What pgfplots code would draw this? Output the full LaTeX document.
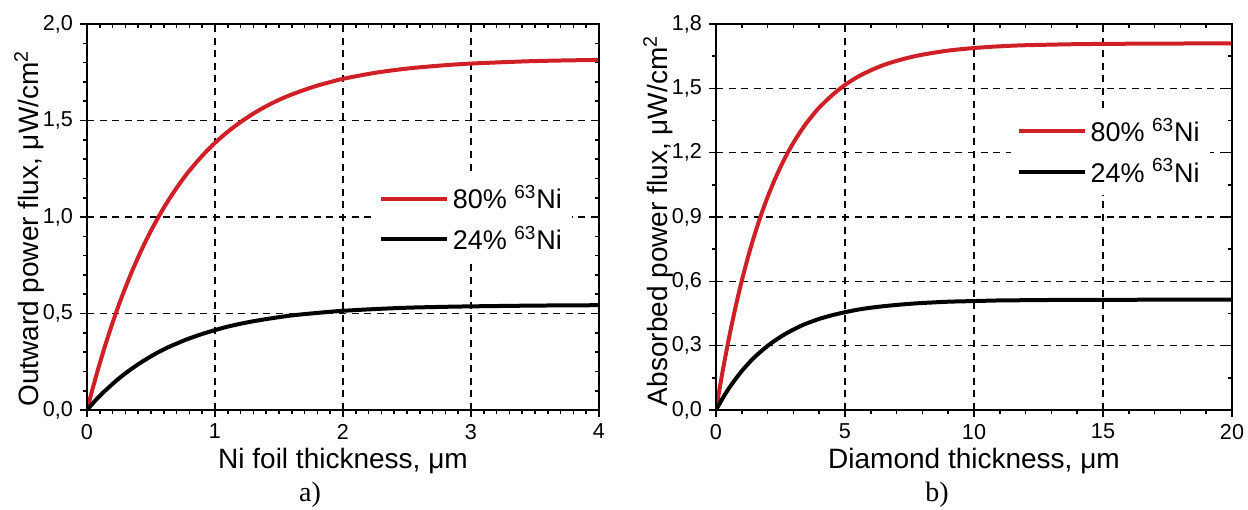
\documentclass[border=0pt]{standalone}
\usepackage{fontspec}
\setmainfont{Liberation Sans}
\newfontfamily\capfont{Liberation Serif}
\usepackage{pgfplots}
\pgfplotsset{compat=1.18}

\definecolor{curvered}{RGB}{206,32,38}

% common look of both panels
\pgfplotsset{
  panel/.style={
    scale only axis,
    width=256pt, height=193pt,
    axis line style={line width=0.9pt},
    tick style={line width=0.8pt, black},
    major tick length=3.5pt,
    minor tick length=2pt,
    tick label style={font=\fontsize{10.8}{12}\selectfont},
    label style={font=\fontsize{14}{16}\selectfont},
    /pgf/number format/assume math mode=true,
    yticklabel style={/pgf/number format/.cd, fixed, fixed zerofill, precision=1, use comma},
    xticklabel style={/pgf/number format/.cd, fixed, precision=0},
  },
  mainax/.style={
    panel,
    tick align=outside,
    xtick pos=bottom, ytick pos=left,
    grid=major,
    major grid style={black, line width=0.65pt, dash pattern=on 3.5pt off 2.8pt},
    legend cell align=left,
    legend image code/.code={\draw[##1, line width=2pt] (0pt,0pt) -- (33pt,0pt);},
  },
  mirrorax/.style={
    panel,
    tick align=inside,
    xtick pos=top, ytick pos=right,
    xticklabels={}, yticklabels={},
  },
  curve/.style={smooth, no marks, line width=2pt},
}

\pgfplotstableread{
x     red    black
0     0      0
0.05  0.125  0.038
0.1   0.242  0.073
0.15  0.351  0.105
0.2   0.452  0.135
0.25  0.547  0.164
0.3   0.634  0.190
0.35  0.716  0.214
0.4   0.792  0.237
0.45  0.863  0.258
0.5   0.929  0.278
0.55  0.990  0.297
0.6   1.048  0.314
0.65  1.101  0.330
0.7   1.150  0.344
0.75  1.197  0.358
0.8   1.240  0.371
0.9   1.317  0.394
1.0   1.384  0.414
1.1   1.442  0.432
1.2   1.492  0.447
1.3   1.536  0.460
1.4   1.574  0.471
1.5   1.607  0.481
1.6   1.635  0.490
1.7   1.659  0.497
1.8   1.681  0.503
1.9   1.699  0.509
2.0   1.716  0.514
2.25  1.747  0.523
2.5   1.769  0.530
2.75  1.784  0.534
3.0   1.795  0.537
3.5   1.808  0.541
4.0   1.814  0.543
}\foildata

\pgfplotstableread{
x     red    black
0     0      0
0.25  0.176  0.053
0.5   0.334  0.101
0.75  0.476  0.143
1     0.603  0.182
1.25  0.717  0.216
1.5   0.819  0.247
1.75  0.911  0.274
2     0.993  0.299
2.25  1.067  0.321
2.5   1.133  0.341
2.75  1.193  0.359
3     1.246  0.375
3.25  1.294  0.390
3.5   1.337  0.403
3.75  1.375  0.414
4     1.410  0.425
4.5   1.468  0.442
5     1.516  0.456
5.5   1.554  0.468
6     1.584  0.477
6.5   1.609  0.484
7     1.628  0.490
7.5   1.644  0.495
8     1.657  0.499
9     1.676  0.505
10    1.688  0.508
11    1.696  0.511
12    1.701  0.512
14    1.706  0.514
16    1.708  0.514
18    1.709  0.515
20    1.710  0.515
}\diamonddata

\begin{document}
\begin{tikzpicture}
% ---- a) ----
\begin{axis}[mainax,
  xmin=0, xmax=4, ymin=0, ymax=2,
  xtick={0,1,2,3,4}, ytick={0,0.5,1,1.5,2},
  minor x tick num=9, minor y tick num=4,
  xlabel={Ni foil thickness, μm},
  ylabel={Outward power flux, μW/cm\textsuperscript{2}},
  xlabel style={at={(axis description cs:0.5,-0.132)}, anchor=center},
  ylabel style={at={(axis description cs:-0.113,0.47)}, anchor=center},
  legend style={at={(axis cs:2.23,0.99)}, anchor=west, draw=none, fill=white,
    inner sep=3pt, row sep=3pt, font=\fontsize{13.5}{16}\selectfont},
]
\addplot[curve, curvered] table[x=x, y=red] {\foildata};
\addplot[curve, black] table[x=x, y=black] {\foildata};
\legend{80\% \textsuperscript{63}Ni, 24\% \textsuperscript{63}Ni}
\end{axis}
\begin{axis}[mirrorax,
  xmin=0, xmax=4, ymin=0, ymax=2,
  xtick={0,1,2,3,4}, ytick={0,0.5,1,1.5,2},
  minor x tick num=9, minor y tick num=4,
]
\end{axis}
\node[font=\capfont\fontsize{14}{16}\selectfont] at (111.5pt,-42.5pt) {a)};

% ---- b) ----
\begin{axis}[mainax, at={(314.5pt,0pt)}, width=258pt,
  xmin=0, xmax=20, ymin=0, ymax=1.8,
  xtick={0,5,10,15,20}, ytick={0,0.3,...,1.8},
  minor x tick num=4, minor y tick num=1,
  xlabel={Diamond thickness, μm},
  ylabel={Absorbed power flux, μW/cm\textsuperscript{2}},
  xlabel style={at={(axis description cs:0.5,-0.132)}, anchor=center},
  ylabel style={at={(axis description cs:-0.112,0.49)}, anchor=center},
  legend style={at={(axis cs:11.4,1.205)}, anchor=west, draw=none, fill=white,
    inner sep=3pt, row sep=3pt, font=\fontsize{13.5}{16}\selectfont},
]
\addplot[curve, curvered] table[x=x, y=red] {\diamonddata};
\addplot[curve, black] table[x=x, y=black] {\diamonddata};
\legend{80\% \textsuperscript{63}Ni, 24\% \textsuperscript{63}Ni}
\end{axis}
\begin{axis}[mirrorax, at={(314.5pt,0pt)}, width=258pt,
  xmin=0, xmax=20, ymin=0, ymax=1.8,
  xtick={0,5,10,15,20}, ytick={0,0.3,...,1.8},
  minor x tick num=4, minor y tick num=1,
]
\end{axis}
\node[font=\capfont\fontsize{14}{16}\selectfont] at (425pt,-42.5pt) {b)};

\pgfresetboundingbox
\path[use as bounding box] (-43.5pt,-49.5pt) rectangle (580.5pt,205pt);
\end{tikzpicture}
\end{document}
